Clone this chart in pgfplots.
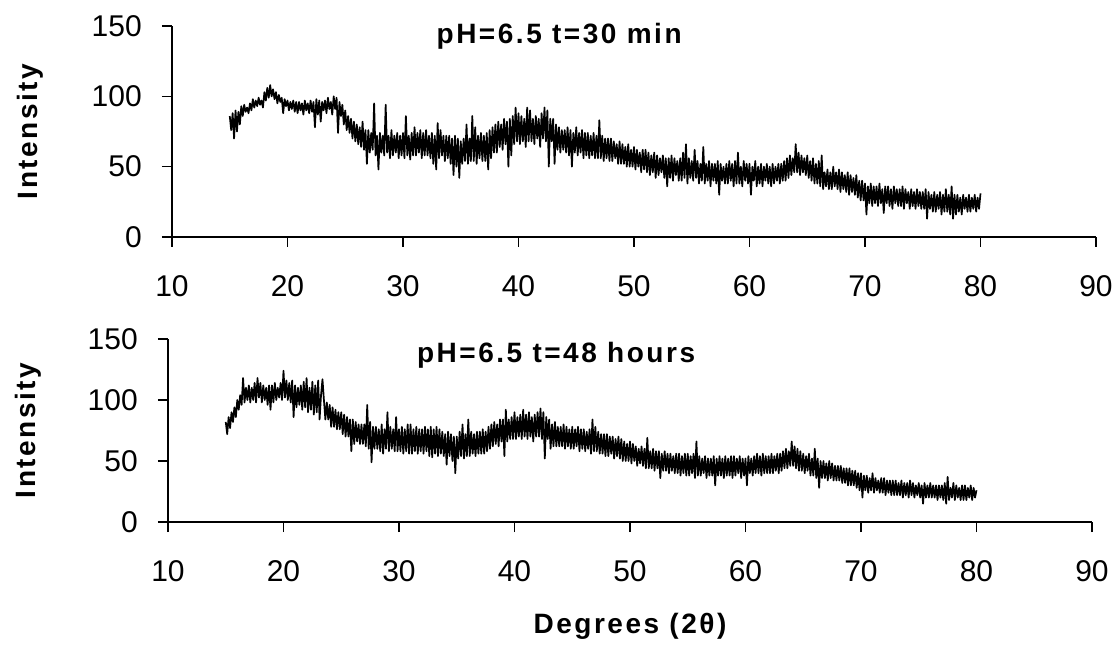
\documentclass[border=0pt]{standalone}
\usepackage{fontspec}
\setmainfont{Liberation Sans}
\newfontfamily\labfont[LetterSpace=9]{Liberation Sans}
\usepackage{pgfplots}
\pgfplotsset{compat=1.18}
\newcommand\tickfont{\fontsize{30bp}{36bp}\selectfont}
\newcommand\labelfont{\labfont\bfseries\fontsize{28bp}{33bp}\selectfont}
\pgfplotsset{
 xrdaxis/.style={
  scale only axis, width=924bp, anchor=south west,
  xmin=10, xmax=90, ymin=0, ymax=150,
  xtick={10,20,...,90}, ytick={0,50,100,150},
  axis lines=left, axis line style={-, line width=1.6bp, black},
  tick style={line width=1.6bp, black},
  tick align=outside, major tick length=10bp,
  /pgf/number format/assume math mode=true,
  xticklabel style={font=\tickfont, anchor=north, inner sep=0pt, yshift=-28bp},
  yticklabel style={font=\tickfont, anchor=east, inner sep=0pt, xshift=-20bp},
  ylabel={Intensity},
  every axis title/.style={anchor=base, inner sep=0pt, font=\labelfont},
  every axis x label/.style={at={(axis description cs:0.5,0)}, anchor=base, inner sep=0pt, yshift=-111bp, font=\labelfont},
 },
 data/.style={black, line width=1.7bp, line join=round, mark=none},
}
\begin{document}
\begin{tikzpicture}
\useasboundingbox (0,0) rectangle (1120bp,645bp);
\begin{axis}[xrdaxis, at={(172bp,408bp)}, height=211bp,
  title={pH=6.5 t=30 min},
  title style={at={(axis description cs:0.419,0.919)}},
  every axis y label/.style={at={(axis description cs:0,0.5)}, xshift=-155bp, rotate=90, anchor=north, inner sep=0pt, font=\labelfont}]
\addplot[data] coordinates {
(15,86)(15.125,76)(15.25,88)(15.375,70)(15.5,90)(15.625,75)(15.75,89)(15.875,80)
(16,93)(16.125,86)(16.25,94)(16.375,89)(16.5,92)(16.625,88)(16.75,95)(16.875,90)
(17,98)(17.125,92)(17.25,97)(17.375,93)(17.5,99)(17.625,94)(17.75,97)(17.875,92)
(18,103)(18.125,97)(18.25,106)(18.375,99)(18.5,108)(18.625,100)(18.75,105)(18.875,98)
(19,103)(19.125,95)(19.25,101)(19.375,96)(19.5,99)(19.625,88)(19.75,98)(19.875,93)
(20,97)(20.125,90)(20.25,96)(20.375,91)(20.5,97)(20.625,89)(20.75,96)(20.875,88)
(21,96)(21.125,90)(21.25,95)(21.375,87)(21.5,97)(21.625,90)(21.75,95)(21.875,88)
(22,97)(22.125,89)(22.25,96)(22.375,78)(22.5,98)(22.625,87)(22.75,97)(22.875,82)
(23,96)(23.125,90)(23.25,97)(23.375,88)(23.5,99)(23.625,91)(23.75,96)(23.875,87)
(24,100)(24.125,91)(24.25,99)(24.375,74)(24.5,96)(24.625,86)(24.75,94)(24.875,80)
(25,90)(25.125,76)(25.25,86)(25.375,74)(25.5,84)(25.625,70)(25.75,82)(25.875,68)
(26,80)(26.125,66)(26.25,78)(26.375,64)(26.5,82)(26.625,62)(26.75,76)(26.875,52)
(27,76)(27.125,60)(27.25,74)(27.375,62)(27.5,95)(27.625,58)(27.75,72)(27.875,48)
(28,74)(28.125,60)(28.25,72)(28.375,58)(28.5,94)(28.625,60)(28.75,72)(28.875,56)
(29,76)(29.125,58)(29.25,72)(29.375,60)(29.5,74)(29.625,56)(29.75,72)(29.875,58)
(30,74)(30.125,56)(30.25,86)(30.375,58)(30.5,72)(30.625,55)(30.75,74)(30.875,58)
(31,78)(31.125,58)(31.25,74)(31.375,60)(31.5,76)(31.625,56)(31.75,74)(31.875,58)
(32,76)(32.125,58)(32.25,72)(32.375,56)(32.5,74)(32.625,52)(32.75,72)(32.875,48)
(33,81)(33.125,56)(33.25,76)(33.375,58)(33.5,72)(33.625,54)(33.75,72)(33.875,56)
(34,72)(34.125,52)(34.25,70)(34.375,44)(34.5,72)(34.625,50)(34.75,70)(34.875,42)
(35,68)(35.125,52)(35.25,70)(35.375,54)(35.5,80)(35.625,52)(35.75,70)(35.875,54)
(36,86)(36.125,54)(36.25,78)(36.375,52)(36.5,72)(36.625,56)(36.75,74)(36.875,54)
(37,72)(37.125,54)(37.25,74)(37.375,48)(37.5,76)(37.625,56)(37.75,78)(37.875,60)
(38,80)(38.125,60)(38.25,82)(38.375,64)(38.5,80)(38.625,62)(38.75,84)(38.875,66)
(39,82)(39.125,50)(39.25,84)(39.375,58)(39.5,86)(39.625,66)(39.75,92)(39.875,68)
(40,88)(40.125,66)(40.25,86)(40.375,68)(40.5,84)(40.625,64)(40.75,92)(40.875,68)
(41,90)(41.125,68)(41.25,84)(41.375,66)(41.5,86)(41.625,70)(41.75,84)(41.875,64)
(42,88)(42.125,70)(42.25,92)(42.375,68)(42.5,90)(42.625,50)(42.75,84)(42.875,68)
(43,84)(43.125,52)(43.25,80)(43.375,62)(43.5,78)(43.625,60)(43.75,76)(43.875,62)
(44,76)(44.125,60)(44.25,78)(44.375,58)(44.5,76)(44.625,50)(44.75,74)(44.875,60)
(45,78)(45.125,58)(45.25,74)(45.375,60)(45.5,76)(45.625,56)(45.75,74)(45.875,58)
(46,74)(46.125,56)(46.25,72)(46.375,58)(46.5,74)(46.625,56)(46.75,72)(46.875,56)
(47,83)(47.125,56)(47.25,72)(47.375,54)(47.5,70)(47.625,56)(47.75,70)(47.875,54)
(48,70)(48.125,54)(48.25,68)(48.375,56)(48.5,66)(48.625,52)(48.75,68)(48.875,52)
(49,66)(49.125,52)(49.25,64)(49.375,50)(49.5,66)(49.625,50)(49.75,62)(49.875,50)
(50,64)(50.125,48)(50.25,62)(50.375,50)(50.5,60)(50.625,46)(50.75,62)(50.875,48)
(51,62)(51.125,46)(51.25,60)(51.375,44)(51.5,58)(51.625,46)(51.75,60)(51.875,42)
(52,58)(52.125,44)(52.25,56)(52.375,46)(52.5,58)(52.625,42)(52.75,56)(52.875,36)
(53,56)(53.125,42)(53.25,58)(53.375,40)(53.5,56)(53.625,44)(53.75,54)(53.875,40)
(54,56)(54.125,40)(54.25,60)(54.375,42)(54.5,66)(54.625,38)(54.75,56)(54.875,42)
(55,54)(55.125,40)(55.25,62)(55.375,42)(55.5,54)(55.625,38)(55.75,52)(55.875,40)
(56,64)(56.125,38)(56.25,52)(56.375,40)(56.5,54)(56.625,36)(56.75,52)(56.875,40)
(57,52)(57.125,38)(57.25,54)(57.375,30)(57.5,52)(57.625,40)(57.75,50)(57.875,38)
(58,52)(58.125,38)(58.25,54)(58.375,40)(58.5,52)(58.625,36)(58.75,54)(58.875,38)
(59,60)(59.125,38)(59.25,50)(59.375,36)(59.5,54)(59.625,40)(59.75,52)(59.875,38)
(60,52)(60.125,30)(60.25,50)(60.375,40)(60.5,54)(60.625,36)(60.75,50)(60.875,38)
(61,52)(61.125,36)(61.25,50)(61.375,40)(61.5,52)(61.625,38)(61.75,50)(61.875,36)
(62,52)(62.125,38)(62.25,50)(62.375,40)(62.5,52)(62.625,38)(62.75,52)(62.875,40)
(63,54)(63.125,40)(63.25,56)(63.375,42)(63.5,58)(63.625,44)(63.75,56)(63.875,46)
(64,66)(64.125,46)(64.25,60)(64.375,44)(64.5,58)(64.625,46)(64.75,56)(64.875,44)
(65,58)(65.125,42)(65.25,54)(65.375,40)(65.5,56)(65.625,38)(65.75,52)(65.875,38)
(66,54)(66.125,36)(66.25,58)(66.375,34)(66.5,46)(66.625,36)(66.75,48)(66.875,34)
(67,46)(67.125,34)(67.25,50)(67.375,36)(67.5,46)(67.625,34)(67.75,48)(67.875,32)
(68,46)(68.125,34)(68.25,44)(68.375,32)(68.5,46)(68.625,30)(68.75,44)(68.875,32)
(69,42)(69.125,30)(69.25,44)(69.375,28)(69.5,40)(69.625,26)(69.75,40)(69.875,26)
(70,38)(70.125,16)(70.25,36)(70.375,24)(70.5,38)(70.625,22)(70.75,36)(70.875,24)
(71,36)(71.125,22)(71.25,38)(71.375,24)(71.5,34)(71.625,17)(71.75,36)(71.875,24)
(72,36)(72.125,22)(72.25,34)(72.375,20)(72.5,36)(72.625,24)(72.75,34)(72.875,22)
(73,34)(73.125,22)(73.25,36)(73.375,20)(73.5,34)(73.625,24)(73.75,32)(73.875,20)
(74,34)(74.125,22)(74.25,32)(74.375,20)(74.5,34)(74.625,22)(74.75,32)(74.875,20)
(75,32)(75.125,20)(75.25,34)(75.375,13)(75.5,32)(75.625,20)(75.75,30)(75.875,18)
(76,32)(76.125,18)(76.25,30)(76.375,20)(76.5,32)(76.625,16)(76.75,30)(76.875,18)
(77,34)(77.125,18)(77.25,30)(77.375,16)(77.5,36)(77.625,13)(77.75,30)(77.875,16)
(78,30)(78.125,18)(78.25,28)(78.375,16)(78.5,30)(78.625,20)(78.75,28)(78.875,18)
(79,30)(79.125,18)(79.25,28)(79.375,20)(79.5,30)(79.625,18)(79.75,28)(79.875,20)
(80,31)
};
\end{axis}
\begin{axis}[xrdaxis, at={(168bp,123bp)}, height=183bp,
  title={pH=6.5 t=48 hours},
  title style={at={(axis description cs:0.42,0.869)}},
  xlabel={Degrees (2θ)},
  every axis y label/.style={at={(axis description cs:0,0.5)}, xshift=-153bp, rotate=90, anchor=north, inner sep=0pt, font=\labelfont}]
\addplot[data] coordinates {
(15,82)(15.125,72)(15.25,86)(15.375,77)(15.5,90)(15.625,82)(15.75,94)(15.875,86)
(16,100)(16.125,92)(16.25,104)(16.375,96)(16.5,118)(16.625,98)(16.75,110)(16.875,100)
(17,112)(17.125,98)(17.25,110)(17.375,100)(17.5,114)(17.625,98)(17.75,118)(17.875,102)
(18,114)(18.125,98)(18.25,112)(18.375,100)(18.5,110)(18.625,96)(18.75,112)(18.875,92)
(19,112)(19.125,98)(19.25,114)(19.375,100)(19.5,110)(19.625,102)(19.75,114)(19.875,100)
(20,124)(20.125,102)(20.25,116)(20.375,100)(20.5,114)(20.625,98)(20.75,116)(20.875,86)
(21,112)(21.125,94)(21.25,110)(21.375,96)(21.5,112)(21.625,92)(21.75,115)(21.875,94)
(22,118)(22.125,90)(22.25,110)(22.375,92)(22.5,115)(22.625,88)(22.75,112)(22.875,90)
(23,116)(23.125,84)(23.25,104)(23.375,117)(23.5,100)(23.625,84)(23.75,98)(23.875,84)
(24,96)(24.125,78)(24.25,94)(24.375,78)(24.5,92)(24.625,76)(24.75,90)(24.875,76)
(25,90)(25.125,72)(25.25,88)(25.375,70)(25.5,86)(25.625,70)(25.75,84)(25.875,58)
(26,84)(26.125,64)(26.25,82)(26.375,66)(26.5,80)(26.625,64)(26.75,80)(26.875,64)
(27,80)(27.125,62)(27.25,96)(27.375,60)(27.5,82)(27.625,49)(27.75,78)(27.875,60)
(28,78)(28.125,60)(28.25,76)(28.375,58)(28.5,80)(28.625,56)(28.75,76)(28.875,60)
(29,90)(29.125,58)(29.25,78)(29.375,60)(29.5,76)(29.625,58)(29.75,86)(29.875,58)
(30,76)(30.125,58)(30.25,78)(30.375,56)(30.5,76)(30.625,58)(30.75,80)(30.875,56)
(31,80)(31.125,56)(31.25,76)(31.375,58)(31.5,78)(31.625,56)(31.75,76)(31.875,58)
(32,76)(32.125,56)(32.25,78)(32.375,58)(32.5,76)(32.625,54)(32.75,78)(32.875,53)
(33,76)(33.125,56)(33.25,78)(33.375,54)(33.5,76)(33.625,56)(33.75,74)(33.875,54)
(34,72)(34.125,47)(34.25,74)(34.375,54)(34.5,72)(34.625,50)(34.75,70)(34.875,40)
(35,70)(35.125,52)(35.25,74)(35.375,54)(35.5,80)(35.625,52)(35.75,72)(35.875,54)
(36,84)(36.125,54)(36.25,74)(36.375,56)(36.5,72)(36.625,54)(36.75,74)(36.875,56)
(37,74)(37.125,56)(37.25,76)(37.375,56)(37.5,74)(37.625,58)(37.75,78)(37.875,60)
(38,80)(38.125,62)(38.25,82)(38.375,64)(38.5,80)(38.625,62)(38.75,84)(38.875,66)
(39,84)(39.125,54)(39.25,92)(39.375,66)(39.5,84)(39.625,68)(39.75,86)(39.875,68)
(40,90)(40.125,68)(40.25,86)(40.375,70)(40.5,88)(40.625,68)(40.75,92)(40.875,70)
(41,88)(41.125,68)(41.25,90)(41.375,70)(41.5,86)(41.625,66)(41.75,88)(41.875,70)
(42,90)(42.125,70)(42.25,93)(42.375,68)(42.5,90)(42.625,52)(42.75,86)(42.875,68)
(43,84)(43.125,60)(43.25,80)(43.375,62)(43.5,82)(43.625,62)(43.75,78)(43.875,62)
(44,78)(44.125,62)(44.25,80)(44.375,60)(44.5,78)(44.625,62)(44.75,76)(44.875,60)
(45,78)(45.125,60)(45.25,76)(45.375,62)(45.5,78)(45.625,58)(45.75,76)(45.875,60)
(46,76)(46.125,58)(46.25,74)(46.375,60)(46.5,76)(46.625,56)(46.75,84)(46.875,58)
(47,78)(47.125,58)(47.25,74)(47.375,56)(47.5,72)(47.625,56)(47.75,72)(47.875,54)
(48,72)(48.125,54)(48.25,70)(48.375,56)(48.5,70)(48.625,52)(48.75,68)(48.875,54)
(49,70)(49.125,52)(49.25,68)(49.375,50)(49.5,66)(49.625,50)(49.75,64)(49.875,50)
(50,66)(50.125,48)(50.25,64)(50.375,50)(50.5,62)(50.625,46)(50.75,60)(50.875,48)
(51,62)(51.125,46)(51.25,60)(51.375,44)(51.5,69)(51.625,44)(51.75,58)(51.875,44)
(52,60)(52.125,42)(52.25,58)(52.375,44)(52.5,58)(52.625,36)(52.75,56)(52.875,42)
(53,58)(53.125,42)(53.25,56)(53.375,40)(53.5,56)(53.625,42)(53.75,54)(53.875,40)
(54,56)(54.125,40)(54.25,56)(54.375,38)(54.5,54)(54.625,40)(54.75,56)(54.875,38)
(55,56)(55.125,38)(55.25,54)(55.375,40)(55.5,56)(55.625,36)(55.75,66)(55.875,38)
(56,54)(56.125,38)(56.25,52)(56.375,40)(56.5,54)(56.625,36)(56.75,52)(56.875,38)
(57,52)(57.125,38)(57.25,54)(57.375,30)(57.5,52)(57.625,38)(57.75,54)(57.875,38)
(58,52)(58.125,36)(58.25,54)(58.375,38)(58.5,52)(58.625,38)(58.75,54)(58.875,36)
(59,54)(59.125,38)(59.25,52)(59.375,40)(59.5,54)(59.625,36)(59.75,52)(59.875,38)
(60,52)(60.125,30)(60.25,54)(60.375,40)(60.5,52)(60.625,38)(60.75,54)(60.875,40)
(61,56)(61.125,40)(61.25,54)(61.375,38)(61.5,56)(61.625,40)(61.75,54)(61.875,40)
(62,54)(62.125,40)(62.25,56)(62.375,40)(62.5,54)(62.625,42)(62.75,56)(62.875,40)
(63,56)(63.125,42)(63.25,58)(63.375,44)(63.5,60)(63.625,44)(63.75,58)(63.875,46)
(64,66)(64.125,46)(64.25,62)(64.375,44)(64.5,60)(64.625,42)(64.75,58)(64.875,42)
(65,56)(65.125,40)(65.25,54)(65.375,42)(65.5,56)(65.625,38)(65.75,52)(65.875,38)
(66,60)(66.125,36)(66.25,52)(66.375,28)(66.5,50)(66.625,36)(66.75,50)(66.875,36)
(67,48)(67.125,34)(67.25,50)(67.375,36)(67.5,48)(67.625,34)(67.75,46)(67.875,34)
(68,46)(68.125,34)(68.25,46)(68.375,32)(68.5,44)(68.625,32)(68.75,44)(68.875,30)
(69,44)(69.125,30)(69.25,42)(69.375,30)(69.5,42)(69.625,28)(69.75,40)(69.875,26)
(70,40)(70.125,20)(70.25,38)(70.375,26)(70.5,38)(70.625,24)(70.75,36)(70.875,26)
(71,40)(71.125,24)(71.25,36)(71.375,26)(71.5,34)(71.625,24)(71.75,36)(71.875,24)
(72,36)(72.125,22)(72.25,34)(72.375,24)(72.5,34)(72.625,22)(72.75,34)(72.875,22)
(73,34)(73.125,22)(73.25,32)(73.375,22)(73.5,34)(73.625,20)(73.75,32)(73.875,22)
(74,32)(74.125,20)(74.25,34)(74.375,22)(74.5,32)(74.625,20)(74.75,30)(74.875,22)
(75,32)(75.125,20)(75.25,30)(75.375,15)(75.5,32)(75.625,20)(75.75,30)(75.875,20)
(76,32)(76.125,20)(76.25,30)(76.375,20)(76.5,30)(76.625,18)(76.75,30)(76.875,20)
(77,30)(77.125,18)(77.25,32)(77.375,15)(77.5,37)(77.625,18)(77.75,28)(77.875,20)
(78,32)(78.125,18)(78.25,30)(78.375,20)(78.5,28)(78.625,18)(78.75,30)(78.875,18)
(79,30)(79.125,18)(79.25,28)(79.375,20)(79.5,30)(79.625,18)(79.75,28)(79.875,20)
(80,26)
};
\end{axis}
\end{tikzpicture}
\end{document}
